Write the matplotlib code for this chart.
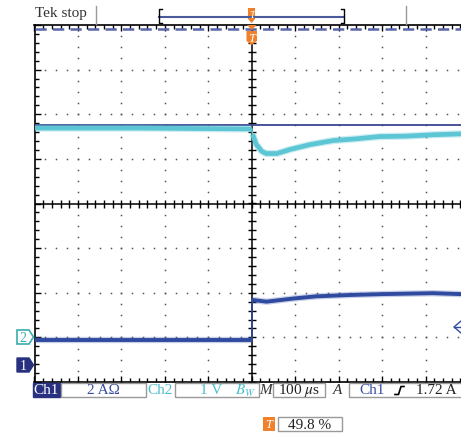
import matplotlib
matplotlib.use("Agg")
import matplotlib.pyplot as plt
import numpy as np
from matplotlib.lines import Line2D
from matplotlib.patches import Polygon, Rectangle
from matplotlib.ticker import MultipleLocator

W, H = 461, 435

# screen in divisions: x = time (100 us/div), y = vertical divisions
ch2_t = [-5, -2.5, 0, 0.02, 0.1, 0.23, 0.33, 0.58, 0.88, 1.34, 1.87, 2.41, 2.94, 3.56, 4.17, 4.79, 5]
ch2_v = [1.69, 1.69, 1.67, 1.55, 1.33, 1.17, 1.12, 1.12, 1.21, 1.32, 1.41, 1.45, 1.50, 1.51, 1.54, 1.56, 1.57]

ch1_t = [-5, -2.5, 0, 0, 0.34, 0.95, 1.49, 2.26, 3.02, 4.17, 4.79, 5]
ch1_v = [-3.06, -3.06, -3.06, -2.16, -2.20, -2.13, -2.08, -2.05, -2.03, -2.01, -2.03, -2.02]

level_line = 1.76
top_dashed = 3.90

NAVY = "#2f4a9e"
CYAN = "#5cc6d4"
ORANGE = "#f0802a"
SERIF = "Liberation Serif"
plt.rcParams["mathtext.fontset"] = "stix"

fig = plt.figure(figsize=(W / 100, H / 100), dpi=100)


def fx(x):
    return x / W


def fy(y):
    return 1 - y / H


ax = fig.add_axes([fx(34.5), fy(383), 434.5 / W, 357 / H])
ax.set_xlim(-5, 5)
ax.set_ylim(-4, 4)
for s in ax.spines.values():
    s.set_linewidth(1.2)
ax.xaxis.set_major_locator(MultipleLocator(1))
ax.yaxis.set_major_locator(MultipleLocator(1))
ax.xaxis.set_minor_locator(MultipleLocator(0.2))
ax.yaxis.set_minor_locator(MultipleLocator(0.2))
ax.tick_params(which="both", direction="in", top=True, right=True,
               labelbottom=False, labelleft=False, width=1)
ax.tick_params(which="major", length=4.5)
ax.tick_params(which="minor", length=3)

# dotted graticule
dots = np.arange(-5, 5.01, 0.25)
dots_y = np.arange(-4, 4.01, 0.25)
for gx in range(-4, 5):
    if gx != 0:
        ax.plot(np.full(len(dots_y), gx), dots_y, ls="none", marker="s", ms=1.1,
                color="#555555", mew=0)
for gy in range(-3, 4):
    if gy != 0:
        ax.plot(dots, np.full(len(dots), gy), ls="none", marker="s", ms=1.1,
                color="#555555", mew=0)

# centre cross with fine ticks
ax.axhline(0, color="black", lw=1.1, zorder=2)
ax.axvline(0, color="black", lw=1.1, zorder=2)
fine = np.arange(-5, 5.01, 0.2)
fine_y = np.arange(-4, 4.01, 0.2)
ax.plot(fine, np.zeros(len(fine)), ls="none", marker="|", ms=6, mew=1, color="black")
ax.plot(np.zeros(len(fine_y)), fine_y, ls="none", marker="_", ms=6, mew=1, color="black")

# top dashed line and level line
ax.axhline(top_dashed, color="#5a66a8", lw=1.8, dashes=(4.5, 2.5), zorder=5)
ax.axhline(level_line, color="#3b4590", lw=1.3, zorder=3)

# traces: drawn in two parts so the fast edge at the trigger stays thin
for t, v, col, halo, lw in [(ch2_t, ch2_v, CYAN, CYAN, 3.4),
                            (ch1_t, ch1_v, NAVY, "#4a66b8", 2.8)]:
    k = t.index(0) + 1
    for a, b in [(0, k), (k, len(t))]:
        ax.plot(t[a:b], v[a:b], color=halo, lw=lw + 1.8, alpha=0.3,
                solid_capstyle="butt", zorder=4)
        ax.plot(t[a:b], v[a:b], color=col, lw=lw, solid_capstyle="butt", zorder=4)
    ax.plot(t[k - 1:k + 1], v[k - 1:k + 1], color=col, lw=1.2, zorder=4)


def fline(xs, ys, **kw):
    fig.add_artist(Line2D([fx(x) for x in xs], [fy(y) for y in ys],
                          transform=fig.transFigure, **kw))


def fpoly(pts, **kw):
    fig.add_artist(Polygon([(fx(x), fy(y)) for x, y in pts], closed=True,
                           transform=fig.transFigure, **kw))


def ftext(x, y, s, **kw):
    kw.setdefault("family", SERIF)
    kw.setdefault("va", "center")
    fig.text(fx(x), fy(y), s, **kw)


# header
ftext(35, 14, "Tek stop", fontsize=11, color="#333333")
fline([96, 96], [7, 25], color="#999999", lw=1)
fline([406, 406], [7, 25], color="#999999", lw=1)
fline([159, 344], [18, 18], color="#4a5a9a", lw=1.5)
fline([162, 159, 159, 162], [10, 10, 24, 24], color="black", lw=1)
fline([341, 344, 344, 341], [10, 10, 24, 24], color="black", lw=1)
fpoly([(248, 9), (255, 9), (255, 20), (251.7, 24), (248, 20)], color=ORANGE, lw=0)
ftext(251.7, 15, "T", fontsize=7, color="white", ha="center", style="italic")
fpoly([(247, 26), (256.5, 26), (251.7, 31)], color=ORANGE, lw=0)
fpoly([(246.5, 32), (257, 32), (257, 42), (251.7, 46), (246.5, 42)], color=ORANGE, lw=0)
ftext(251.7, 38.5, "T", fontsize=9, color="white", ha="center", style="italic")

# channel ground markers
fpoly([(17, 331), (29, 331), (33.5, 338), (29, 345), (17, 345)], facecolor="white",
      edgecolor="#3aaeb0", lw=1.2)
ftext(23, 338.5, "2", fontsize=10, color="#3aaeb0", ha="center")
fpoly([(17, 359), (29, 359), (33.5, 366), (29, 373), (17, 373)], facecolor="#283080",
      edgecolor="#283080", lw=1)
ftext(23, 366.5, "1", fontsize=10, color="white", ha="center")

# trigger level arrow on the right
fline([461, 454, 461], [322, 328, 334], color=NAVY, lw=1)
fline([454, 461], [328, 328], color=NAVY, lw=1)


def fbox(x0, x1, y0, y1, **kw):
    fig.add_artist(Rectangle((fx(x0), fy(y1)), (x1 - x0) / W, (y1 - y0) / H,
                             transform=fig.transFigure, **kw))


# status bar
row = 391
fs = 11
fbox(33, 60, 384, 398, facecolor="#283080", edgecolor="#283080", lw=1)
ftext(46.5, row, "Ch1", fontsize=fs, color="white", ha="center")
fbox(61, 146, 384, 398, facecolor="none", edgecolor="#999999", lw=1)
ftext(103, row, "2 A\u03a9", fontsize=fs, color="#3a4ea0", ha="center")
ftext(160, row, "Ch2", fontsize=fs, color="#4cbfcc", ha="center")
fbox(175, 259, 384, 398, facecolor="none", edgecolor="#999999", lw=1)
ftext(211, row, "1 V", fontsize=fs, color="#4cbfcc", ha="center")
ftext(235, row, "$B_W$", fontsize=fs, color="#4cbfcc", ha="left")
ftext(266, row, "M", fontsize=fs, color="#333333", ha="center", style="italic")
fbox(273, 325, 384, 398, facecolor="none", edgecolor="#999999", lw=1)
ftext(299, row, "100 $\\mu$s", fontsize=fs, color="#222222", ha="center")
ftext(338, row, "A", fontsize=fs, color="#333333", ha="center", style="italic")
fbox(349, 470, 384, 398, facecolor="none", edgecolor="#999999", lw=1)
ftext(372, row, "Ch1", fontsize=fs, color="#3a4ea0", ha="center")
fline([395, 398.5, 401, 404], [395.5, 395.5, 387.5, 387.5], color="black", lw=1.2)
ftext(436, row, "1.72 A", fontsize=fs, color="#222222", ha="center")

fbox(263, 275, 418, 432, facecolor=ORANGE, edgecolor=ORANGE, lw=0)
ftext(269, 425, "T", fontsize=9, color="white", ha="center", style="italic")
fbox(278, 342, 418, 432, facecolor="none", edgecolor="#999999", lw=1)
ftext(310, 425.5, "49.8 %", fontsize=fs, color="#222222", ha="center")

fig.savefig("out.png", dpi=100)
